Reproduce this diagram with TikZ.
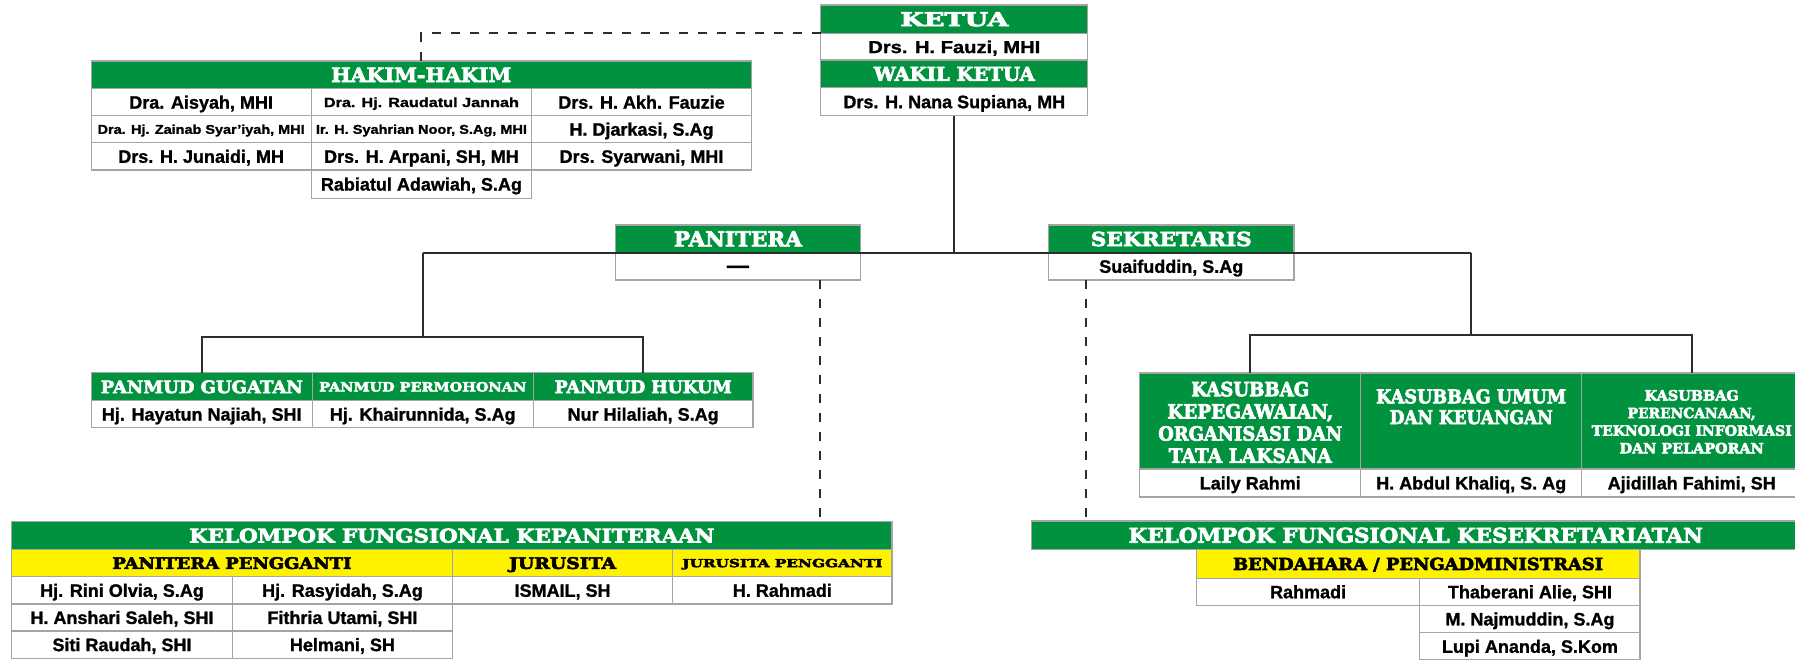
\documentclass[tikz,border=0pt]{standalone}
\usepackage{graphicx}
\usepackage{fontspec}
\setmainfont{Liberation Sans}[BoldFeatures={FakeBold=1.2}]
\newfontfamily\hfont{DejaVu Serif}[BoldFeatures={FakeBold=3.5}]
\definecolor{kgreen}{RGB}{0,146,63}
\definecolor{kyellow}{RGB}{255,242,0}
\definecolor{kline}{RGB}{45,45,45}
\definecolor{kborder}{RGB}{165,165,165}
\newcommand\hd[3]{\resizebox{#1pt}{#2pt}{\hfont\bfseries #3}}
\newcommand\nmw[3]{\resizebox{#1pt}{#2pt}{#3}}
\newcommand\cellnode[7]{\node[#1, minimum width={(#5-#3)*1pt}, minimum height={(#6-#4)*1pt}] (#2) at (#3,#4) {#7};}
\tikzset{
  cellbase/.style={draw=kborder, line width=1.1pt, inner sep=0pt, outer sep=0pt, anchor=north west, text depth=0pt},
  gcell/.style={cellbase, fill=kgreen, text=white},
  ycell/.style={cellbase, fill=kyellow, text=black},
  wcell/.style={cellbase, fill=white, text=black, font=\bfseries\fontsize{18}{20}\selectfont, text height=12.9pt},
  conn/.style={draw=kline, line width=2pt},
  dconn/.style={draw=kline, line width=2pt, dash pattern=on 9pt off 10pt},
  lbl/.style={inner sep=0pt, outer sep=0pt, text=white, align=center, anchor=north},
}
\begin{document}
\begin{tikzpicture}[x=1pt,y=-1pt]
\fill[white] (0,0) rectangle (1795,659);
\useasboundingbox (0,0) rectangle (1795,659);

% KETUA / WAKIL KETUA
\cellnode{gcell}{ketua}{820.7}{5}{1087.9}{33.3}{\hd{108}{14}{KETUA}}
\cellnode{wcell}{ketuaN}{820.7}{33.3}{1087.9}{60}{\nmw{172}{12.6}{Drs. H. Fauzi, MHI}}
\cellnode{gcell}{wakil}{820.7}{60}{1087.9}{87.7}{\hd{161}{14}{WAKIL KETUA}}
\cellnode{wcell}{wakilN}{820.7}{87.7}{1087.9}{115.7}{Drs. H. Nana Supiana, MH}

% HAKIM-HAKIM
\cellnode{gcell}{hakim}{91.1}{61}{751.3}{88.7}{\hd{180}{14.3}{HAKIM-HAKIM}}
\cellnode{wcell}{hk11}{91.1}{88.7}{311.2}{115.7}{Dra. Aisyah, MHI}
\cellnode{wcell, text height=9.7pt}{hk12}{311.2}{88.7}{531.7}{115.7}{\nmw{195}{9.7}{Dra. Hj. Raudatul Jannah}}
\cellnode{wcell}{hk13}{531.7}{88.7}{751.3}{115.7}{Drs. H. Akh. Fauzie}
\cellnode{wcell, text height=9.3pt}{hk21}{91.1}{115.7}{311.2}{142.7}{\nmw{207}{9.3}{Dra. Hj. Zainab Syar'iyah, MHI}}
\cellnode{wcell, text height=9.3pt}{hk22}{311.2}{115.7}{531.7}{142.7}{\nmw{211}{9.3}{Ir. H. Syahrian Noor, S.Ag, MHI}}
\cellnode{wcell}{hk23}{531.7}{115.7}{751.3}{142.7}{H. Djarkasi, S.Ag}
\cellnode{wcell}{hk31}{91.1}{142.7}{311.2}{170}{Drs. H. Junaidi, MH}
\cellnode{wcell}{hk32}{311.2}{142.7}{531.7}{170}{Drs. H. Arpani, SH, MH}
\cellnode{wcell}{hk33}{531.7}{142.7}{751.3}{170}{Drs. Syarwani, MHI}
\cellnode{wcell}{hk42}{311.2}{170}{531.7}{198.3}{Rabiatul Adawiah, S.Ag}

% PANITERA / SEKRETARIS
\cellnode{gcell}{panitera}{615.2}{225}{860.7}{252.7}{\hd{128}{15}{PANITERA}}
\cellnode{wcell}{paniteraN}{615.2}{252.7}{860.7}{280}{{\fontsize{22}{22}\selectfont —}}
\cellnode{gcell}{sekr}{1048.5}{225}{1294}{252.7}{\hd{161}{14.3}{SEKRETARIS}}
\cellnode{wcell}{sekrN}{1048.5}{252.7}{1294}{280}{Suaifuddin, S.Ag}

% PANMUD
\cellnode{gcell}{pmg}{91.4}{372.7}{312.1}{400.7}{\hd{202}{12.7}{PANMUD GUGATAN}}
\cellnode{gcell}{pmp}{312.1}{372.7}{533.3}{400.7}{\hd{207}{9.3}{PANMUD PERMOHONAN}}
\cellnode{gcell}{pmh}{533.3}{372.7}{753}{400.7}{\hd{177}{12.7}{PANMUD HUKUM}}
\cellnode{wcell}{pmgN}{91.4}{400.7}{312.1}{427.7}{Hj. Hayatun Najiah, SHI}
\cellnode{wcell}{pmpN}{312.1}{400.7}{533.3}{427.7}{Hj. Khairunnida, S.Ag}
\cellnode{wcell}{pmhN}{533.3}{400.7}{753}{427.7}{Nur Hilaliah, S.Ag}

% KASUBBAG
\cellnode{gcell}{ks1}{1139.9}{373}{1360.6}{469}{}
\cellnode{gcell}{ks2}{1360.6}{373}{1581.8}{469}{}
\cellnode{gcell}{ks3}{1581.8}{373}{1801.6}{469}{}
\node[lbl, font=\fontsize{10}{22.2}\selectfont] (ks1t) at (ks1.north |- 0,381.7)
  {\hd{118}{14.5}{KASUBBAG}\\\hd{166}{14.5}{KEPEGAWAIAN,}\\\hd{184}{14.5}{ORGANISASI DAN}\\\hd{163}{14.5}{TATA LAKSANA}};
\node[lbl, font=\fontsize{10}{20.7}\selectfont] (ks2t) at (ks2.north |- 0,389.3)
  {\hd{190}{14}{KASUBBAG UMUM}\\\hd{163}{14}{DAN KEUANGAN}};
\node[lbl, font=\fontsize{10}{17.6}\selectfont] (ks3t) at (ks3.north |- 0,390)
  {\hd{94}{10.5}{KASUBBAG}\\\hd{128}{10.5}{PERENCANAAN,}\\\hd{200}{10.5}{TEKNOLOGI INFORMASI}\\\hd{144}{10.5}{DAN PELAPORAN}};
\cellnode{wcell}{ks1N}{1139.9}{469}{1360.6}{497}{Laily Rahmi}
\cellnode{wcell}{ks2N}{1360.6}{469}{1581.8}{497}{H. Abdul Khaliq, S. Ag}
\cellnode{wcell}{ks3N}{1581.8}{469}{1801.6}{497}{Ajidillah Fahimi, SH}

% KELOMPOK FUNGSIONAL KEPANITERAAN
\cellnode{gcell}{kfk}{11.5}{521.7}{892}{549.3}{\hd{525}{14}{KELOMPOK FUNGSIONAL KEPANITERAAN}}
\cellnode{ycell}{pp}{11.5}{549.3}{452.4}{576.7}{\hd{239}{11.7}{PANITERA PENGGANTI}}
\cellnode{ycell}{js}{452.4}{549.3}{672.8}{576.7}{\hd{107}{11.7}{JURUSITA}}
\cellnode{ycell}{jsp}{672.8}{549.3}{892}{576.7}{\hd{200}{8.3}{JURUSITA PENGGANTI}}
\cellnode{wcell}{pp11}{11.5}{576.7}{232.5}{604}{Hj. Rini Olvia, S.Ag}
\cellnode{wcell}{pp12}{232.5}{576.7}{452.4}{604}{Hj. Rasyidah, S.Ag}
\cellnode{wcell}{js1}{452.4}{576.7}{672.8}{604}{ISMAIL, SH}
\cellnode{wcell}{jsp1}{672.8}{576.7}{892}{604}{H. Rahmadi}
\cellnode{wcell}{pp21}{11.5}{604}{232.5}{631}{H. Anshari Saleh, SHI}
\cellnode{wcell}{pp22}{232.5}{604}{452.4}{631}{Fithria Utami, SHI}
\cellnode{wcell}{pp31}{11.5}{631}{232.5}{658.3}{Siti Raudah, SHI}
\cellnode{wcell}{pp32}{232.5}{631}{452.4}{658.3}{Helmani, SH}

% KELOMPOK FUNGSIONAL KESEKRETARIATAN
\cellnode{gcell}{kfs}{1031.4}{521}{1800}{549.3}{\hd{574}{15}{KELOMPOK FUNGSIONAL KESEKRETARIATAN}}
\cellnode{ycell}{bend}{1196.2}{549.3}{1640}{578.3}{\hd{370}{12.3}{BENDAHARA / PENGADMINISTRASI}}
\cellnode{wcell}{bd1}{1196.2}{578.3}{1419.9}{605.3}{Rahmadi}
\cellnode{wcell}{bd2}{1419.9}{578.3}{1640}{605.3}{Thaberani Alie, SHI}
\cellnode{wcell}{bd3}{1419.9}{605.3}{1640}{632.7}{M. Najmuddin, S.Ag}
\cellnode{wcell}{bd4}{1419.9}{632.7}{1640}{660}{Lupi Ananda, S.Kom}

% connectors
\draw[dconn] (ketua.south west) -| (hakim.north -| hk12.north);
\draw[conn] (wakilN.south) -- (wakilN.south |- panitera.south);
\coordinate (jL) at (pmp.north |- panitera.south);
\coordinate (jR) at (ks2.north |- panitera.south);
\draw[conn] (jL) -- (jR);
\draw[conn] (jL) -- ++(0,84) coordinate (pbar);
\draw[conn] (pmg.north) |- (pbar) -| (pmh.north);
\draw[conn] (jR) -- ++(0,82.3) coordinate (kbar);
\draw[conn] (ks1.north) |- (kbar) -| (ks3.north);
\coordinate (pdTop) at ([xshift=-40.7pt]paniteraN.south east);
\draw[dconn] (pdTop) -- (pdTop |- kfk.north);
\coordinate (sdTop) at ([xshift=37.5pt]sekrN.south west);
\draw[dconn] (sdTop) -- (sdTop |- kfs.north);
\end{tikzpicture}
\end{document}
